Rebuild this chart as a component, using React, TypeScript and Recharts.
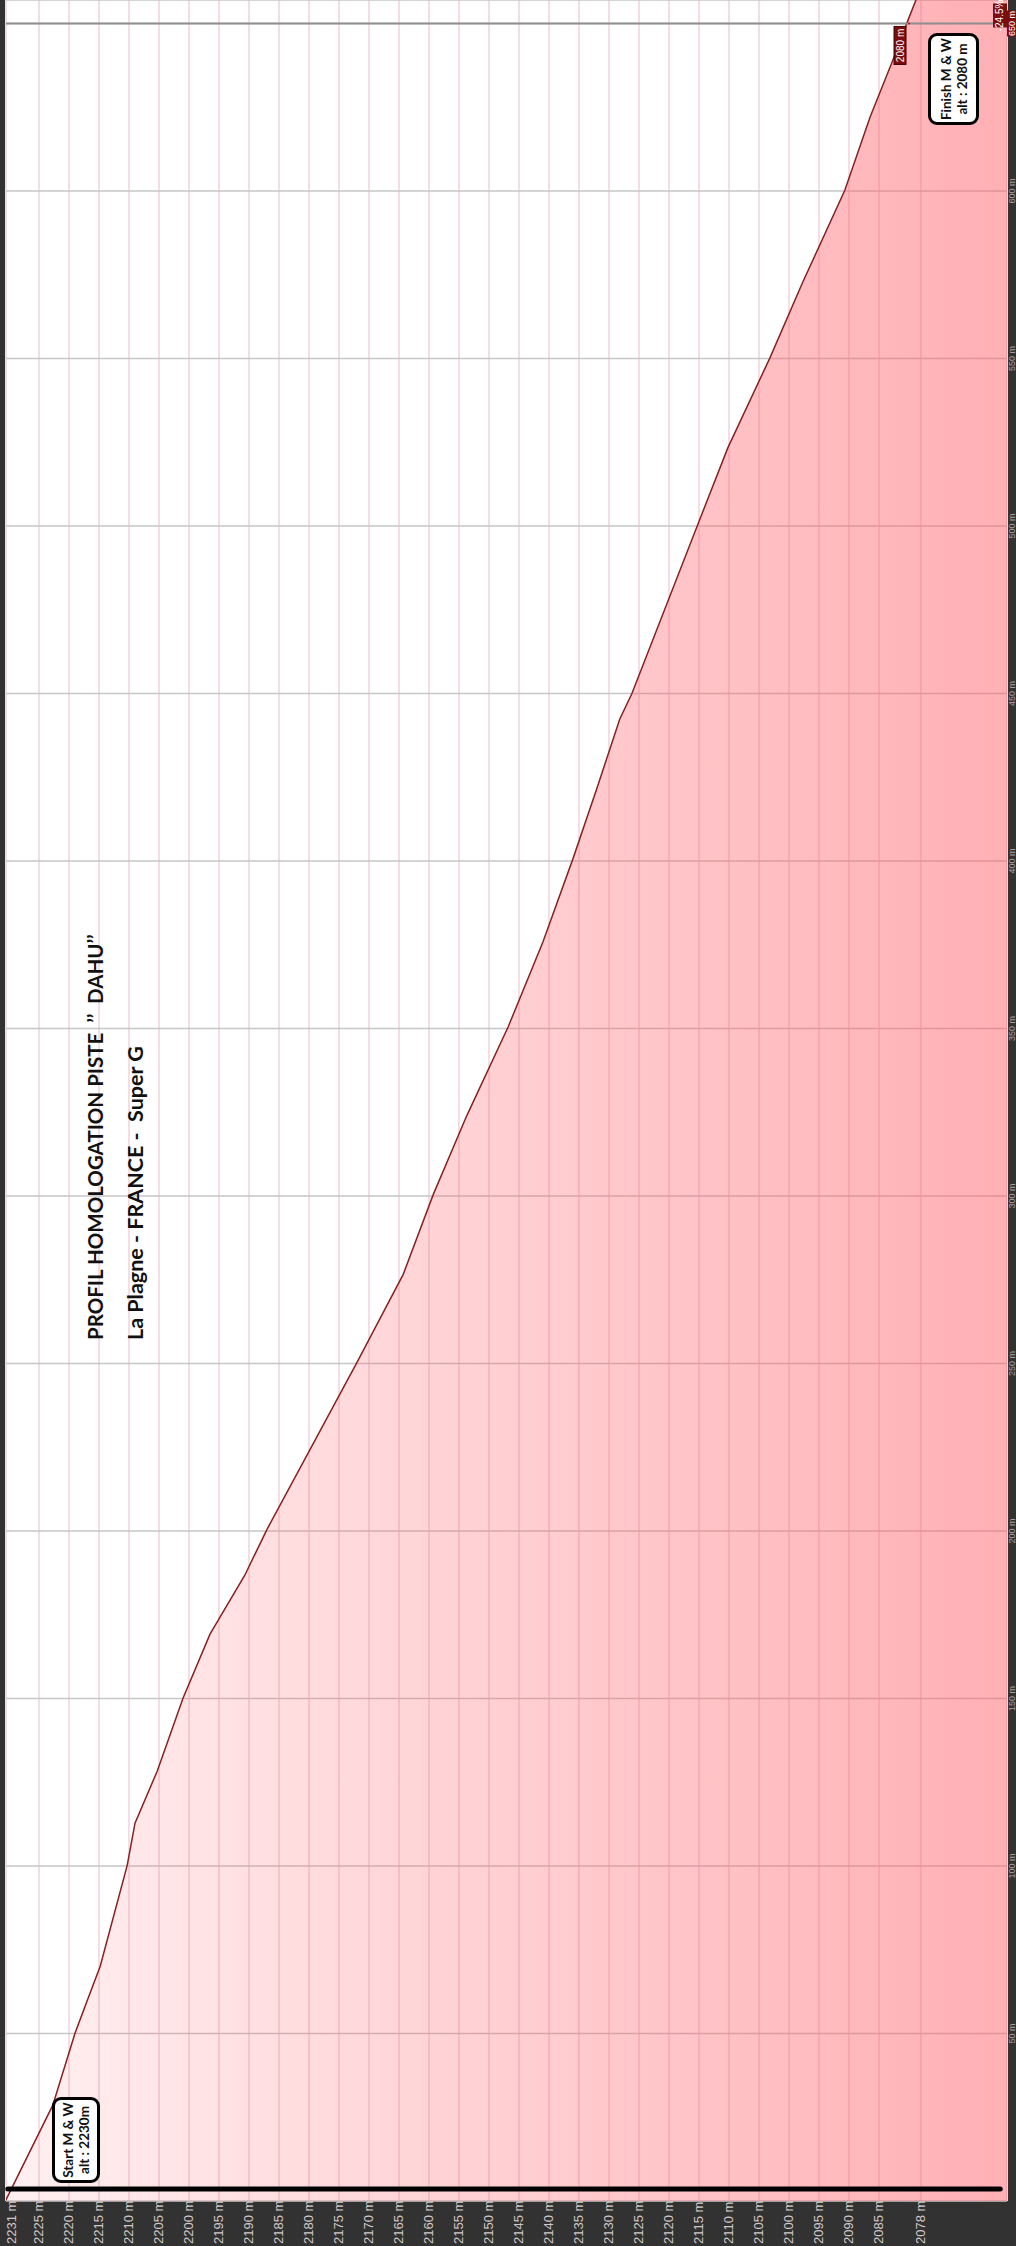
import React from 'react';
import {
  AreaChart,
  Area,
  XAxis,
  YAxis,
  CartesianGrid,
  ReferenceLine,
  ReferenceDot
} from 'recharts';

// profile of the piste, distance (m) vs altitude (m)
const distances = [0, 28.6, 50.1, 60.6, 70.1, 100.2, 112.8, 128.3, 150.1, 169.2, 186.8, 200.5, 250.3, 276.6, 300.4, 324.0, 350.5, 375.9, 400.7, 421.8, 442.4, 449.9, 500.0, 523.3, 550.1, 572.8, 600.2, 622.0, 639.0, 650.4, 657.2];
const altitudes = [2230.6, 2222.7, 2219.0, 2216.8, 2214.8, 2210.3, 2209.0, 2205.3, 2201.0, 2196.5, 2190.7, 2187.0, 2172.0, 2164.3, 2159.3, 2153.7, 2146.8, 2141.0, 2136.0, 2132.0, 2128.2, 2126.2, 2115.3, 2110.2, 2103.2, 2097.7, 2090.7, 2086.5, 2082.7, 2080.3, 2078.8];

const distanceTicks = [50, 100, 150, 200, 250, 300, 350, 400, 450, 500, 550, 600, 650];
const altitudeTicks = [2230.5, 2225, 2220, 2215, 2210, 2205, 2200, 2195, 2190, 2185, 2180, 2175, 2170, 2165, 2160, 2155, 2150, 2145, 2140, 2135, 2130, 2125, 2120, 2115, 2110, 2105, 2100, 2095, 2090, 2085, 2078];

const altitudeDomain = [2063.67, 2230.5];
const startDistance = 3.6;
const startLineAltitudes = [2064.8, 2230.2];
const finishDistance = 650;
const finishAltitude = 2080;
const finishSlope = '-24.5%';

const data = distances.map((d, i) => ({ d, alt: altitudes[i] }));

// the chart is drawn landscape and turned a quarter turn, like the original
const W = 2246;
const H = 1016;
const narrow = "'Liberation Sans Narrow', 'Arial Narrow', sans-serif";
const boldFont = "Lato, 'Open Sans', sans-serif";

const AltTick = (props: any) => {
  const { y, payload } = props;
  // first label sits a little inside the edge, as in the original
  return (
    <text x={2} y={Math.max(y, 12)} dy={4} fill="#d2c8c8" fontSize={13} fontFamily={narrow}>
      {Math.round(payload.value)} m
    </text>
  );
};

const DistTick = (props: any) => {
  const { x, payload } = props;
  const isFinish = payload.value === finishDistance;
  return (
    <g>
      {isFinish && <rect x={x - 13} y={1007} width={26} height={9} fill="#7a0d0d" />}
      <text x={x} y={1015} textAnchor="middle" fill={isFinish ? '#fff' : '#a9a0a0'} fontSize={9} fontFamily={narrow}>
        {payload.value} m
      </text>
    </g>
  );
};

const SlopeLabel = (props: any) => {
  const { x, y, height } = props.viewBox;
  return (
    <g>
      <rect x={x - 4} y={y + height - 14} width={24} height={14} fill="#7a0d0d" />
      <text x={x + 8} y={y + height - 4} textAnchor="middle" fill="#fff" fontSize={10} fontFamily={narrow}>
        {finishSlope}
      </text>
    </g>
  );
};

const FinishAltLabel = (props: any) => {
  const { x, y } = props.viewBox;
  return (
    <g>
      <rect x={x - 40} y={y - 14} width={38} height={12} fill="#7a0d0d" stroke="#4a0000" />
      <text x={x - 21} y={y - 4.5} textAnchor="middle" fill="#fff" fontSize={10} fontFamily={narrow}>
        {finishAltitude} m
      </text>
    </g>
  );
};

const boxStyle: React.CSSProperties = {
  position: 'absolute',
  boxSizing: 'border-box',
  border: '3px solid #000',
  borderRadius: 9,
  background: '#fff',
  fontFamily: boldFont,
  fontWeight: 700,
  color: '#111',
  textAlign: 'center',
  display: 'flex',
  flexDirection: 'column',
  justifyContent: 'center',
  whiteSpace: 'nowrap'
};

const App: React.FC = () => {
  return (
    <div style={{ position: 'absolute', left: 0, top: 0, width: H, height: W, overflow: 'hidden', background: '#323232' }}>
      <div
        style={{
          position: 'absolute',
          left: 0,
          top: 0,
          width: W,
          height: H,
          transformOrigin: '0 0',
          transform: `translateY(${W}px) rotate(-90deg)`
        }}
      >
        <AreaChart width={W} height={H} data={data} margin={{ top: 6, right: 0, bottom: 0, left: 0 }}>
          <defs>
            <linearGradient id="profileFill" x1="0" y1="0" x2="0" y2="1">
              <stop offset="0%" stopColor="#ff5a64" stopOpacity={0.09} />
              <stop offset="50%" stopColor="#ff5a64" stopOpacity={0.29} />
              <stop offset="100%" stopColor="#ff5a64" stopOpacity={0.48} />
            </linearGradient>
          </defs>
          <CartesianGrid vertical={false} stroke="#f4dde3" strokeWidth={2} fill="#ffffff" />
          <CartesianGrid horizontal={false} stroke="#c6c6c6" strokeWidth={1.5} />
          <XAxis
            dataKey="d"
            type="number"
            domain={[0, 657]}
            ticks={distanceTicks}
            interval={0}
            allowDataOverflow
            axisLine={false}
            tickLine={false}
            tickSize={0}
            tickMargin={2}
            height={9}
            tick={<DistTick />}
          />
          <YAxis
            type="number"
            domain={altitudeDomain}
            ticks={altitudeTicks}
            interval={0}
            allowDataOverflow
            axisLine={false}
            tickLine={false}
            width={45}
            tick={<AltTick />}
          />
          <Area
            type="linear"
            dataKey="alt"
            stroke="#8a1f1f"
            strokeWidth={1.5}
            fill="url(#profileFill)"
            fillOpacity={1}
            isAnimationActive={false}
            dot={false}
            activeDot={false}
          />
          <ReferenceLine
            segment={[
              { x: startDistance, y: startLineAltitudes[0] },
              { x: startDistance, y: startLineAltitudes[1] }
            ]}
            stroke="#000"
            strokeWidth={5}
            strokeLinecap="round"
          />
          <ReferenceLine x={finishDistance} stroke="#8f8f8f" strokeWidth={2} label={<SlopeLabel />} />
          <ReferenceDot x={finishDistance} y={finishAltitude} r={1} fill="#b01010" stroke="none" label={<FinishAltLabel />} />
        </AreaChart>

        <div style={{ position: 'absolute', left: 906, top: 83, fontFamily: boldFont, fontWeight: 700, fontSize: 20.5, color: '#111', whiteSpace: 'pre' }}>
          {'PROFIL HOMOLOGATION PISTE  ’’  DAHU’’'}
        </div>
        <div style={{ position: 'absolute', left: 906, top: 122, fontFamily: boldFont, fontWeight: 700, fontSize: 21.5, color: '#111', whiteSpace: 'pre' }}>
          {'La Plagne - FRANCE -  Super G'}
        </div>

        <div style={{ ...boxStyle, left: 63, top: 52, width: 86, height: 48, fontSize: 13.5, lineHeight: '16px' }}>
          <div>Start M &amp; W</div>
          <div>alt : 2230m</div>
        </div>
        <div style={{ ...boxStyle, left: 2121, top: 928, width: 92, height: 51, fontSize: 13.5, lineHeight: '16px' }}>
          <div>Finish M &amp; W</div>
          <div>alt : 2080 m</div>
        </div>
      </div>
    </div>
  );
};

export default App;
